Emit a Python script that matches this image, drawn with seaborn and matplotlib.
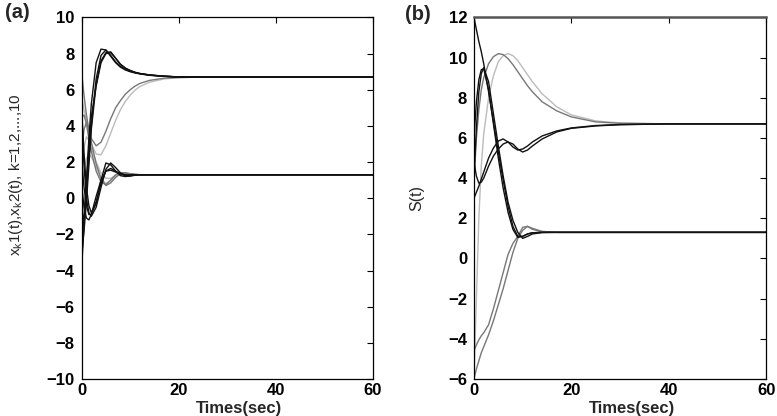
import numpy as np
import pandas as pd
import matplotlib
matplotlib.use("Agg")
import matplotlib.pyplot as plt
import seaborn as sns

# ---------------- data ----------------
T = [0, 0.5, 1, 1.5, 2, 3, 4, 5, 6, 7, 8, 9, 10, 11, 12, 14, 17, 20, 25, 30, 40, 60]

# panel (a): upper group (x_k1 -> 6.7)
a_up_black_1 = [-3.9, -1.5, 1.0, 3.3, 5.2, 7.5, 8.25, 8.2, 7.85, 7.5, 7.25, 7.1, 7.0, 6.93, 6.88, 6.8, 6.74, 6.71, 6.7, 6.7, 6.7, 6.7]
a_up_black_2 = [-3.2, -1.8, -0.2, 1.8, 3.8, 6.3, 7.6, 8.05, 8.1, 7.75, 7.4, 7.2, 7.07, 6.97, 6.9, 6.82, 6.75, 6.71, 6.7, 6.7, 6.7, 6.7]
a_up_black_3 = [-2.3, -1.2, 0.3, 2.2, 4.0, 6.6, 7.9, 8.2, 7.9, 7.55, 7.3, 7.12, 7.02, 6.95, 6.89, 6.81, 6.75, 6.71, 6.7, 6.7, 6.7, 6.7]
a_up_black_4 = [-1.6, -0.9, 0.8, 2.8, 4.5, 6.2, 7.5, 8.0, 8.05, 7.75, 7.42, 7.2, 7.06, 6.96, 6.9, 6.82, 6.75, 6.71, 6.7, 6.7, 6.7, 6.7]
a_up_gray_1 = [7.0, 5.7, 4.6, 3.8, 3.3, 2.9, 3.1, 3.7, 4.4, 5.0, 5.4, 5.75, 6.0, 6.2, 6.35, 6.52, 6.64, 6.68, 6.7, 6.7, 6.7, 6.7]
a_up_gray_2 = [5.6, 4.9, 4.3, 3.6, 3.0, 2.45, 2.4, 2.9, 3.6, 4.3, 4.9, 5.35, 5.7, 5.98, 6.18, 6.42, 6.6, 6.67, 6.7, 6.7, 6.7, 6.7]
# panel (a): lower group (x_k2 -> 1.3)
a_lo_black_1 = [5.0, 2.5, 0.6, -0.4, -0.8, -0.3, 1.0, 1.95, 1.85, 1.5, 1.25, 1.2, 1.25, 1.29, 1.3, 1.3, 1.3, 1.3, 1.3, 1.3, 1.3, 1.3]
a_lo_black_2 = [4.3, 1.8, 0.0, -0.8, -1.0, -0.5, 0.6, 1.6, 1.95, 1.7, 1.4, 1.22, 1.22, 1.27, 1.3, 1.3, 1.3, 1.3, 1.3, 1.3, 1.3, 1.3]
a_lo_black_3 = [2.0, 0.6, -0.4, -0.9, -0.9, -0.2, 0.8, 1.5, 1.65, 1.5, 1.35, 1.27, 1.27, 1.29, 1.3, 1.3, 1.3, 1.3, 1.3, 1.3, 1.3, 1.3]
a_lo_black_4 = [0.8, -0.5, -1.1, -1.2, -0.9, 0.1, 1.0, 1.5, 1.55, 1.45, 1.35, 1.3, 1.29, 1.3, 1.3, 1.3, 1.3, 1.3, 1.3, 1.3, 1.3, 1.3]
a_lo_gray_1 = [4.5, 4.6, 4.1, 3.3, 2.6, 1.5, 0.9, 0.75, 1.0, 1.3, 1.42, 1.4, 1.35, 1.32, 1.3, 1.3, 1.3, 1.3, 1.3, 1.3, 1.3, 1.3]
a_lo_gray_2 = [2.6, 3.8, 4.2, 3.8, 3.1, 1.9, 1.1, 0.7, 0.85, 1.15, 1.35, 1.4, 1.36, 1.32, 1.3, 1.3, 1.3, 1.3, 1.3, 1.3, 1.3, 1.3]
a_lo_light_1 = [0.3, 1.5, 2.2, 2.4, 2.3, 1.7, 1.1, 0.8, 1.0, 1.25, 1.38, 1.38, 1.34, 1.31, 1.3, 1.3, 1.3, 1.3, 1.3, 1.3, 1.3, 1.3]
a_lo_light_2 = [1.6, 2.8, 3.4, 3.2, 2.8, 2.0, 1.4, 1.1, 1.1, 1.25, 1.35, 1.35, 1.32, 1.3, 1.3, 1.3, 1.3, 1.3, 1.3, 1.3, 1.3, 1.3]

# panel (b): S(t)
b_black_from12 = [12.0, 11.4, 10.8, 10.3, 9.7, 8.3, 6.8, 5.3, 3.9, 2.6, 1.6, 1.1, 1.1, 1.22, 1.28, 1.3, 1.3, 1.3, 1.3, 1.3, 1.3, 1.3]
b_black_peak_1 = [6.0, 7.8, 8.9, 9.4, 9.45, 8.4, 6.7, 5.0, 3.5, 2.3, 1.45, 1.05, 1.1, 1.22, 1.28, 1.3, 1.3, 1.3, 1.3, 1.3, 1.3, 1.3]
b_black_peak_2 = [4.0, 6.5, 8.3, 9.2, 9.5, 8.8, 7.2, 5.6, 4.1, 2.8, 1.9, 1.3, 1.0, 1.1, 1.22, 1.29, 1.3, 1.3, 1.3, 1.3, 1.3, 1.3]
b_black_mid_1 = [3.0, 3.3, 3.6, 3.95, 4.3, 5.0, 5.5, 5.85, 5.95, 5.8, 5.55, 5.4, 5.45, 5.6, 5.8, 6.1, 6.35, 6.5, 6.62, 6.67, 6.7, 6.7]
b_black_mid_2 = [4.8, 4.1, 3.75, 3.8, 4.0, 4.6, 5.1, 5.45, 5.7, 5.8, 5.7, 5.45, 5.3, 5.4, 5.6, 5.95, 6.3, 6.48, 6.6, 6.66, 6.7, 6.7]
b_light_high = [-6.0, -2.0, 2.0, 4.6, 6.2, 8.0, 9.1, 9.8, 10.1, 10.2, 10.1, 9.85, 9.5, 9.15, 8.8, 8.2, 7.55, 7.15, 6.85, 6.75, 6.7, 6.7]
b_gray_high = [3.8, 6.0, 7.4, 8.4, 9.0, 9.7, 10.05, 10.2, 10.15, 9.95, 9.65, 9.3, 8.95, 8.6, 8.3, 7.8, 7.35, 7.05, 6.8, 6.73, 6.7, 6.7]
b_gray_low_1 = [-4.6, -4.3, -4.05, -3.85, -3.7, -3.3, -2.5, -1.6, -0.7, 0.2, 0.75, 1.1, 1.55, 1.6, 1.45, 1.33, 1.3, 1.3, 1.3, 1.3, 1.3, 1.3]
b_gray_low_2 = [-6.0, -5.5, -5.1, -4.7, -4.4, -3.8, -3.1, -2.3, -1.5, -0.6, 0.3, 1.0, 1.4, 1.6, 1.5, 1.35, 1.3, 1.3, 1.3, 1.3, 1.3, 1.3]

x_ticks = [0, 20, 40, 60]
a_y_ticks = [-10, -8, -6, -4, -2, 0, 2, 4, 6, 8, 10]
b_y_ticks = [-6, -4, -2, 0, 2, 4, 6, 8, 10, 12]

BLACK, GRAY, LIGHT = "#111111", "#777777", "#bbbbbb"

panel_a = [
    (a_up_gray_2, LIGHT), (a_up_gray_1, GRAY),
    (a_lo_light_1, LIGHT), (a_lo_light_2, LIGHT),
    (a_lo_gray_1, GRAY), (a_lo_gray_2, GRAY),
    (a_up_black_1, BLACK), (a_up_black_2, BLACK), (a_up_black_3, BLACK), (a_up_black_4, BLACK),
    (a_lo_black_1, BLACK), (a_lo_black_2, BLACK), (a_lo_black_3, BLACK), (a_lo_black_4, BLACK),
]
panel_b = [
    (b_light_high, LIGHT), (b_gray_high, GRAY),
    (b_gray_low_1, GRAY), (b_gray_low_2, GRAY),
    (b_black_from12, BLACK), (b_black_peak_1, BLACK), (b_black_peak_2, BLACK),
    (b_black_mid_1, BLACK), (b_black_mid_2, BLACK),
]

# ---------------- style ----------------
sns.set_theme(style="white")
plt.rcParams["font.family"] = ["Liberation Sans", "DejaVu Sans"]
plt.rcParams["mathtext.fontset"] = "custom"
plt.rcParams["mathtext.rm"] = "Liberation Sans"
plt.rcParams["mathtext.it"] = "Liberation Sans"

fig = plt.figure(figsize=(7.77, 4.16), dpi=100)
axA = fig.add_axes([0.105, 0.089, 0.375, 0.869])
axB = fig.add_axes([0.610, 0.089, 0.376, 0.869])

for ax, curves, yt in ((axA, panel_a, a_y_ticks), (axB, panel_b, b_y_ticks)):
    for vals, col in curves:
        sns.lineplot(x=T, y=vals, color=col, ax=ax, lw=1.0, estimator=None, sort=False)
    for s in ax.spines.values():
        s.set_color("black")
        s.set_linewidth(0.9)
    ax.set_xlim(0, 60)
    ax.set_ylim(yt[0], yt[-1])
    ax.set_xticks(x_ticks)
    ax.set_yticks(yt)
    ax.tick_params(direction="in", top=True, right=True, length=4, width=0.8,
                   labelsize=12, colors="black")
    ax.tick_params(axis="y", pad=5)
    ax.tick_params(axis="x", pad=3)
    for lab in ax.get_xticklabels() + ax.get_yticklabels():
        lab.set_fontweight("bold")
    ax.set_xlabel("Times(sec)", fontsize=12, fontweight="bold", labelpad=0)
    ax.xaxis.set_label_coords(0.54, -0.06)

axB.spines["top"].set_color("#555555")
axB.spines["top"].set_linewidth(1.8)

axA.set_ylabel(r"x$_\mathregular{k}$1(t),x$_\mathregular{k}$2(t), k=1,2,...,10", fontsize=11)
axA.yaxis.set_label_coords(-0.195, 0.564)
axB.set_ylabel("S(t)", fontsize=11.5)
axB.yaxis.set_label_coords(-0.169, 0.50)

fig.text(17 / 777, 1 - 13 / 416, "(a)", fontsize=14.5, fontweight="bold", ha="center", va="center")
fig.text(418 / 777, 1 - 14 / 416, "(b)", fontsize=14.5, fontweight="bold", ha="center", va="center")

fig.savefig("out.png", dpi=100)
